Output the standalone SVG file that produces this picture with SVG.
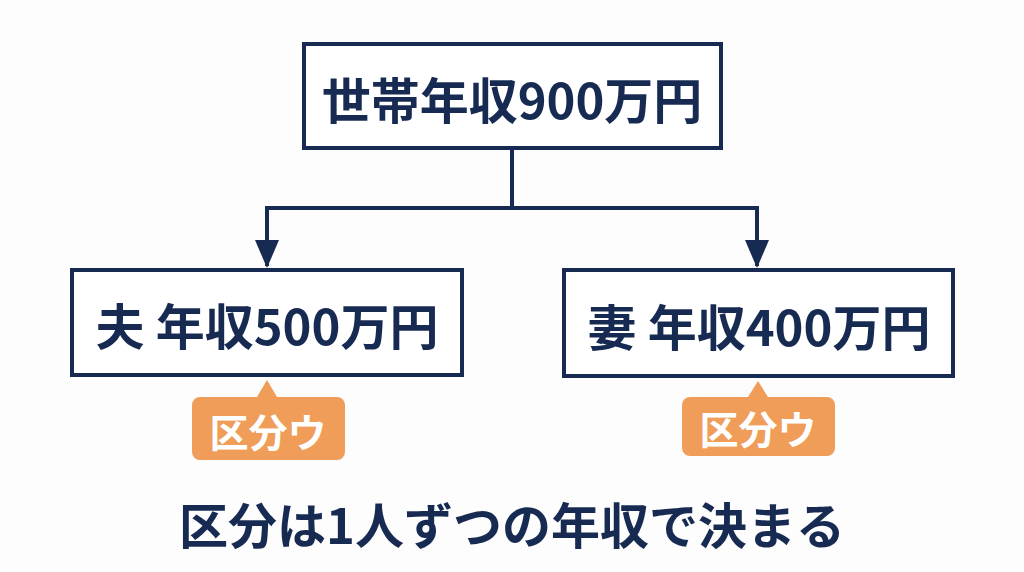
<svg xmlns="http://www.w3.org/2000/svg" width="1024" height="572" viewBox="0 0 1024 572">
<defs>
<style>
.box{fill:#ffffff;stroke:#172b52;stroke-width:4}
.t{font-family:"Noto Sans CJK JP","Noto Sans",sans-serif;font-weight:700;fill:#172b52;text-anchor:middle}
.badge{fill:#ef9d58}
.bt{font-family:"Noto Sans CJK JP","Noto Sans",sans-serif;font-weight:700;fill:#ffffff;text-anchor:middle;font-size:39px}
.line{fill:none;stroke:#172b52;stroke-width:4}
</style>
<marker id="arr" markerWidth="7" markerHeight="6" refX="6.5" refY="3" orient="auto" markerUnits="strokeWidth">
<path d="M0,0 L7,3 L0,6 Z" fill="#172b52"/>
</marker>
</defs>
<rect width="1024" height="572" fill="#fdfdfd"/>
<g id="connectors">
<path class="line" d="M512,150 V208"/>
<path class="line" d="M265,208 H759"/>
<path class="line" d="M267,208 V266" marker-end="url(#arr)"/>
<path class="line" d="M757,208 V266" marker-end="url(#arr)"/>
</g>
<g id="top">
<rect class="box" x="304" y="44" width="417" height="104"/>
<text class="t" x="512" y="119" font-size="49">世帯年収900万円</text>
</g>
<g id="husband">
<rect class="box" x="72" y="270" width="390" height="105"/>
<text class="t" x="267" y="345" font-size="49">夫 年収500万円</text>
</g>
<g id="wife">
<rect class="box" x="564" y="270" width="389" height="106"/>
<text class="t" x="759" y="346" font-size="49">妻 年収400万円</text>
</g>
<g id="badge-left">
<path class="badge" d="M200,397 H257 L267,380 L277,397 H337 a8,8 0 0 1 8,8 V452 a8,8 0 0 1 -8,8 H200 a8,8 0 0 1 -8,-8 V405 a8,8 0 0 1 8,-8 Z"/>
<text class="bt" x="268" y="447">区分ウ</text>
</g>
<g id="badge-right">
<path class="badge" d="M690,397 H748 L758,381 L768,397 H827 a8,8 0 0 1 8,8 V448 a8,8 0 0 1 -8,8 H690 a8,8 0 0 1 -8,-8 V405 a8,8 0 0 1 8,-8 Z"/>
<text class="bt" x="758" y="444">区分ウ</text>
</g>
<g id="caption">
<text class="t" x="512" y="544" font-size="49">区分は1人ずつの年収で決まる</text>
</g>
</svg>
